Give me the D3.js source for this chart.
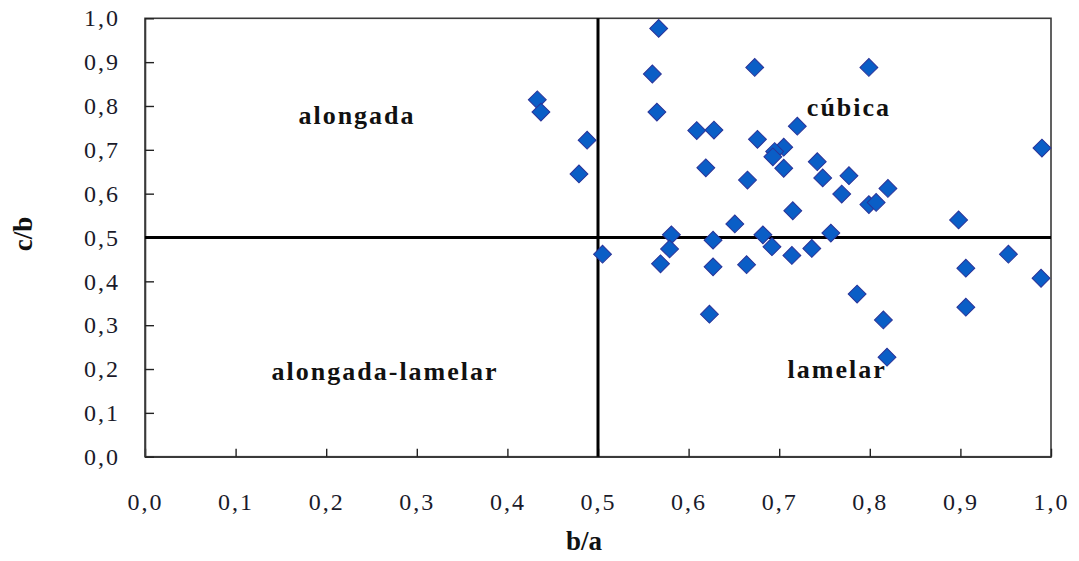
<!DOCTYPE html>
<html>
<head>
<meta charset="utf-8">
<script src="https://cdn.jsdelivr.net/npm/d3@7"></script>
<style>
  body { margin: 0; background: #fff; }
  svg { display: block; }
</style>
</head>
<body>
<svg id="chart"></svg>
<script>
// b/a values
const ba = [0.433, 0.437, 0.488, 0.479, 0.505, 0.567, 0.560, 0.565, 0.673, 0.799,
            0.609, 0.628, 0.720, 0.676, 0.705, 0.695, 0.693, 0.705, 0.619, 0.742,
            0.748, 0.777, 0.665, 0.769, 0.799, 0.807, 0.820, 0.715, 0.651, 0.581,
            0.579, 0.627, 0.682, 0.692, 0.714, 0.736, 0.757, 0.569, 0.627, 0.664,
            0.623, 0.786, 0.815, 0.819, 0.990, 0.898, 0.953, 0.906, 0.989, 0.906];
// c/b values
const cb = [0.814, 0.786, 0.722, 0.645, 0.462, 0.977, 0.873, 0.786, 0.888, 0.888,
            0.744, 0.745, 0.754, 0.724, 0.706, 0.696, 0.684, 0.658, 0.659, 0.673,
            0.636, 0.641, 0.631, 0.599, 0.575, 0.580, 0.612, 0.561, 0.531, 0.506,
            0.474, 0.494, 0.506, 0.479, 0.459, 0.475, 0.510, 0.440, 0.433, 0.438,
            0.325, 0.371, 0.312, 0.227, 0.704, 0.540, 0.462, 0.430, 0.407, 0.341];

const tickValues = [0, 0.1, 0.2, 0.3, 0.4, 0.5, 0.6, 0.7, 0.8, 0.9, 1.0];
const regionNames = ["alongada", "cúbica", "alongada-lamelar", "lamelar"];
const regionPos = [[0.234, 0.76], [0.777, 0.778], [0.265, 0.175], [0.764, 0.18]]; // data coords of label baselines

const width = 1079, height = 561;
const plotLeft = 145, plotRight = 1051, plotTop = 18.3, plotBottom = 456.7;

const svg = d3.select("#chart").attr("width", width).attr("height", height);

const x = d3.scaleLinear().domain([0, 1]).range([plotLeft, plotRight]);
const y = d3.scaleLinear().domain([0, 1]).range([plotBottom, plotTop]);
const fmt = d => d.toFixed(1).replace(".", ",");

// frame
svg.append("rect")
    .attr("x", plotLeft).attr("y", plotTop)
    .attr("width", plotRight - plotLeft).attr("height", plotBottom - plotTop)
    .attr("fill", "none").attr("stroke", "#3a3a3a").attr("stroke-width", 1.6);

// axes with inward ticks
const xAxis = svg.append("g")
    .attr("transform", `translate(0,${plotBottom})`)
    .call(d3.axisBottom(x).tickValues(tickValues).tickFormat(fmt).tickSizeInner(-8).tickSizeOuter(0).tickPadding(36));
const yAxis = svg.append("g")
    .attr("transform", `translate(${plotLeft},0)`)
    .call(d3.axisLeft(y).tickValues(tickValues).tickFormat(fmt).tickSizeInner(-9).tickSizeOuter(0).tickPadding(25));

[xAxis, yAxis].forEach(g => {
    g.select(".domain").attr("stroke", "#3a3a3a").attr("stroke-width", 1.6);
    g.selectAll(".tick line").attr("stroke", "#222").attr("stroke-width", 1.4);
    g.selectAll(".tick text")
        .attr("fill", "#1a1a2a")
        .style("font-family", "'Liberation Serif', 'Times New Roman', serif")
        .style("font-size", "24px")
        .style("letter-spacing", "2px");
});

// dividing lines at 0.5
svg.append("line")
    .attr("x1", x(0)).attr("x2", x(1)).attr("y1", y(0.5)).attr("y2", y(0.5))
    .attr("stroke", "#000").attr("stroke-width", 3);
svg.append("line")
    .attr("x1", x(0.5)).attr("x2", x(0.5)).attr("y1", y(1)).attr("y2", y(0))
    .attr("stroke", "#000").attr("stroke-width", 3);

// region labels
svg.selectAll(".region")
    .data(regionNames)
    .enter().append("text")
    .attr("class", "region")
    .attr("x", (d, i) => x(regionPos[i][0]))
    .attr("y", (d, i) => y(regionPos[i][1]))
    .attr("text-anchor", "middle")
    .style("font-family", "'Liberation Serif', 'Times New Roman', serif")
    .style("font-weight", "bold")
    .style("font-size", "26px")
    .style("letter-spacing", "2px")
    .attr("fill", "#111")
    .text(d => d);

// points
const diamond = d3.symbol().type(d3.symbolSquare).size(160);
svg.selectAll(".pt")
    .data(ba.map((v, i) => [v, cb[i]]))
    .enter().append("path")
    .attr("class", "pt")
    .attr("d", diamond)
    .attr("transform", d => `translate(${x(d[0])},${y(d[1])}) rotate(45)`)
    .attr("fill", "#0a5ec6")
    .attr("stroke", "#2b3398")
    .attr("stroke-width", 1);

// axis titles
svg.append("text")
    .attr("x", 584).attr("y", 550)
    .attr("text-anchor", "middle")
    .style("font-family", "'Liberation Serif', 'Times New Roman', serif")
    .style("font-weight", "bold").style("font-size", "27px")
    .attr("fill", "#111")
    .text("b/a");
svg.append("text")
    .attr("transform", "translate(32,234) rotate(-90)")
    .attr("text-anchor", "middle")
    .style("font-family", "'Liberation Serif', 'Times New Roman', serif")
    .style("font-weight", "bold").style("font-size", "27px")
    .attr("fill", "#111")
    .text("c/b");
</script>
</body>
</html>
